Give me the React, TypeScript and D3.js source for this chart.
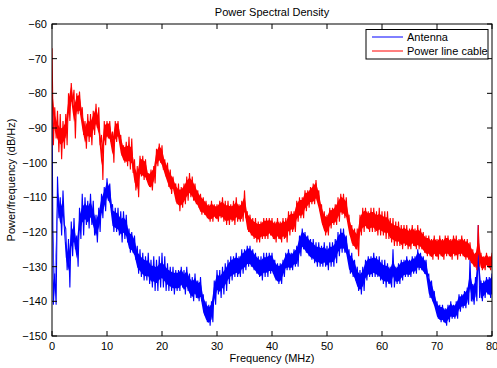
import React from "react";
import * as d3 from "d3";

// Frequency grid (MHz), 0.5 MHz steps
const freqStart = 0;
const freqStep = 0.5;

// Power line cable: upper / lower envelope of the noisy PSD (dB/Hz)
const cableHigh = [
  -67, -84, -85, -86, -88, -86, -80, -77, -79, -80, -79.5, -84, -88, -86, -86, -85, -83, -84, -92, -88,
  -88, -88, -91, -88, -88, -92, -95, -94, -92.5, -93, -99, -101, -98, -98, -99, -103, -102, -101, -96, -94.5,
  -95, -99, -100, -102, -104, -106, -106, -107, -106, -104, -103, -104, -106, -108, -109, -110, -111, -112, -111, -112,
  -112, -111, -110, -111, -111, -112, -111, -110, -112, -111, -108, -114, -115, -116, -116, -117, -117, -116, -116, -116,
  -116, -117, -116, -117, -116, -116, -114, -114, -114, -111, -110, -110, -108, -108, -107, -106, -105, -108, -112, -114,
  -115, -113, -113, -112, -110, -109, -109, -110, -115, -118, -119, -119, -115, -113, -113, -114, -113, -113, -114, -113,
  -114, -114, -114, -116, -116, -117, -117, -118, -118, -118, -119, -118, -119, -118, -119, -120, -121, -121, -122, -121,
  -122, -121, -122, -121, -121, -122, -121, -121, -122, -121, -122, -122, -123, -125, -126, -118, -126, -127, -126, -127,
  -126,
];
const cableLow = [
  -95, -93, -97, -99, -96, -95, -88, -83, -93, -86, -86, -92, -96, -94, -95, -92, -90, -95, -105, -95,
  -93, -94, -100, -94, -93, -98, -100, -101, -102, -103, -108, -110, -104, -105, -105, -107, -108, -106, -101, -100,
  -102, -104, -107, -109, -108, -112, -114, -113, -112, -111, -110, -111, -112, -113, -115, -115, -116, -117, -117, -116,
  -117, -116, -117, -118, -118, -117, -118, -117, -117, -117, -116, -120, -121, -122, -123, -123, -122, -122, -122, -121,
  -122, -123, -122, -123, -122, -123, -121, -120, -120, -117, -116, -116, -114, -113, -112, -112, -111, -114, -118, -121,
  -121, -119, -118, -118, -117, -115, -116, -117, -121, -124, -125, -127, -121, -120, -119, -120, -120, -120, -121, -121,
  -121, -122, -122, -123, -124, -124, -124, -125, -124, -125, -125, -124, -125, -125, -125, -126, -127, -127, -128, -127,
  -128, -127, -128, -127, -127, -128, -127, -128, -127, -127, -128, -128, -129, -130, -131, -130, -131, -131, -130, -131,
  -130,
];

// Antenna: upper / lower envelope of the noisy PSD (dB/Hz)
const antennaHigh = [
  -84, -132, -104, -110, -108, -119, -122, -117, -116, -121, -113, -109, -110, -111, -109, -111, -115, -113, -109, -107,
  -104.5, -106, -112, -113, -113, -114, -114, -115, -119, -120, -121, -124, -125, -126, -127, -126, -128, -127, -128, -127,
  -126, -127, -129, -130, -130, -131, -131, -130, -131, -130, -132, -133, -132, -134, -133, -138, -140, -141, -140, -134,
  -131, -131, -130, -129, -128, -127, -127, -126, -127, -125, -125, -124, -124, -125, -126, -127, -127, -126, -126, -126,
  -126, -128, -129, -129, -128, -126, -125, -126, -125, -124, -121, -119, -120, -121, -122, -122, -123, -123, -124, -123,
  -124, -123, -123, -122, -120, -119, -119, -121, -125, -126, -128, -130, -131, -130, -128, -127, -127, -126, -127, -127,
  -128, -128, -129, -130, -125, -130, -129, -128, -128, -127, -128, -127, -127, -125, -126, -127, -128, -132, -134, -137,
  -140, -141, -141, -142, -141, -140, -141, -140, -138, -138, -137, -136, -128, -135, -133, -118, -134, -134, -133, -133,
  -132,
];
const antennaLow = [
  -141, -141, -116, -121, -118, -131, -136, -127, -125, -130, -122, -121, -118, -119, -118, -121, -123, -120, -116, -114,
  -111, -113, -120, -120, -121, -123, -122, -123, -126, -126, -128, -132, -133, -134, -134, -135, -136, -137, -137, -136,
  -136, -137, -137, -137, -138, -137, -137, -136, -138, -137, -139, -140, -139, -140, -140, -144, -146, -147, -146, -141,
  -138, -139, -138, -137, -135, -134, -133, -133, -133, -132, -131, -130, -130, -131, -132, -133, -134, -133, -133, -132,
  -132, -134, -135, -135, -133, -131, -131, -131, -130, -130, -127, -125, -126, -127, -128, -129, -130, -130, -130, -130,
  -131, -130, -130, -129, -127, -126, -126, -127, -132, -133, -134, -137, -138, -137, -134, -133, -133, -133, -133, -134,
  -135, -136, -135, -136, -136, -135, -135, -134, -133, -133, -133, -132, -132, -131, -131, -132, -133, -139, -140, -142,
  -145, -146, -146, -147, -146, -145, -145, -145, -143, -142, -142, -141, -140, -141, -140, -139, -140, -139, -138, -139,
  -138,
];

const xTicks = [0, 10, 20, 30, 40, 50, 60, 70, 80];
const yTicks = [-150, -140, -130, -120, -110, -100, -90, -80, -70, -60];
const seriesNames = ["Antenna", "Power line cable"];
const seriesColors = ["#0000ff", "#ff0000"];

const W = 497;
const H = 368;
const left = 52;
const right = 492;
const top = 24;
const bottom = 336;
const font = "'Liberation Sans', Arial, Helvetica, sans-serif";

type Pt = [number, number];

function zigzag(hi: number[], lo: number[]): Pt[] {
  const pts: Pt[] = [];
  for (let i = 0; i < hi.length; i++) {
    const f = freqStart + i * freqStep;
    pts.push([f, hi[i]]);
    pts.push([Math.min(80, f + freqStep / 2), lo[i]]);
  }
  return pts;
}

function band(hi: number[], lo: number[]): { f: number; hi: number; lo: number }[] {
  return hi.map((h, i) => {
    // core of the band: trimmed towards the middle of the envelope
    const mid = (h + lo[i]) / 2;
    const half = Math.abs(h - lo[i]) / 2;
    const core = Math.min(half, 3) * 0.75;
    return { f: freqStart + i * freqStep, hi: mid + core, lo: mid - core };
  });
}

export default function App() {
  const x = d3.scaleLinear().domain([0, 80]).range([left, right]);
  const y = d3.scaleLinear().domain([-150, -60]).range([bottom, top]);
  const line = d3
    .line<Pt>()
    .x((d) => x(d[0]))
    .y((d) => y(d[1]));
  const area = d3
    .area<{ f: number; hi: number; lo: number }>()
    .x((d) => x(d.f))
    .y0((d) => y(d.lo))
    .y1((d) => y(d.hi))
    .curve(d3.curveLinear);
  const series = [
    { pts: zigzag(antennaHigh, antennaLow), core: band(antennaHigh, antennaLow) },
    { pts: zigzag(cableHigh, cableLow), core: band(cableHigh, cableLow) },
  ];
  const tl = 5;
  const fmt = (v: number) => (v < 0 ? "\u2212" + Math.abs(v) : String(v));

  return (
    <svg
      width={W}
      height={H}
      style={{ position: "absolute", left: 0, top: 0, background: "#fff" }}
      fontFamily={font}
    >
      <rect x={0} y={0} width={W} height={H} fill="#fff" />
      <defs>
        <clipPath id="plotclip">
          <rect x={left} y={top} width={right - left} height={bottom - top} />
        </clipPath>
      </defs>
      <g clipPath="url(#plotclip)">
        {series.map((s, k) => (
          <g key={k}>
            <path d={area(s.core) || ""} fill={seriesColors[k]} stroke="none" />
            <path
              d={line(s.pts) || ""}
              fill="none"
              stroke={seriesColors[k]}
              strokeWidth={1.1}
              strokeLinejoin="miter"
            />
          </g>
        ))}
      </g>
      {/* ticks */}
      {xTicks.map((t) => (
        <g key={"x" + t}>
          <line x1={x(t)} x2={x(t)} y1={bottom} y2={bottom - tl} stroke="#000" />
          <line x1={x(t)} x2={x(t)} y1={top} y2={top + tl} stroke="#000" />
          <text x={x(t)} y={349.5} fontSize={11} textAnchor="middle" fill="#000">
            {t}
          </text>
        </g>
      ))}
      {yTicks.map((t) => (
        <g key={"y" + t}>
          <line x1={left} x2={left + tl} y1={y(t)} y2={y(t)} stroke="#000" />
          <line x1={right} x2={right - tl} y1={y(t)} y2={y(t)} stroke="#000" />
          <text x={47} y={y(t) + 4} fontSize={11} textAnchor="end" fill="#000">
            {fmt(t)}
          </text>
        </g>
      ))}
      <rect
        x={left}
        y={top}
        width={right - left}
        height={bottom - top}
        fill="none"
        stroke="#000"
        strokeWidth={1}
      />
      <text x={(left + right) / 2} y={16} fontSize={11} textAnchor="middle" fill="#000">
        Power Spectral Density
      </text>
      <text x={(left + right) / 2} y={362} fontSize={11} textAnchor="middle" fill="#000">
        Frequency (MHz)
      </text>
      <text
        transform={`translate(15,${(top + bottom) / 2}) rotate(-90)`}
        fontSize={11}
        textAnchor="middle"
        fill="#000"
      >
        Power/frequency (dB/Hz)
      </text>
      {/* legend */}
      <rect x={366} y={29.5} width={122} height={29.5} fill="#fff" stroke="#000" strokeWidth={1} />
      {seriesNames.map((n, i) => (
        <g key={n}>
          <line x1={372} x2={403} y1={37 + i * 14} y2={37 + i * 14} stroke={seriesColors[i]} strokeWidth={1} />
          <text x={407} y={41 + i * 14} fontSize={11} fill="#000">
            {n}
          </text>
        </g>
      ))}
    </svg>
  );
}
